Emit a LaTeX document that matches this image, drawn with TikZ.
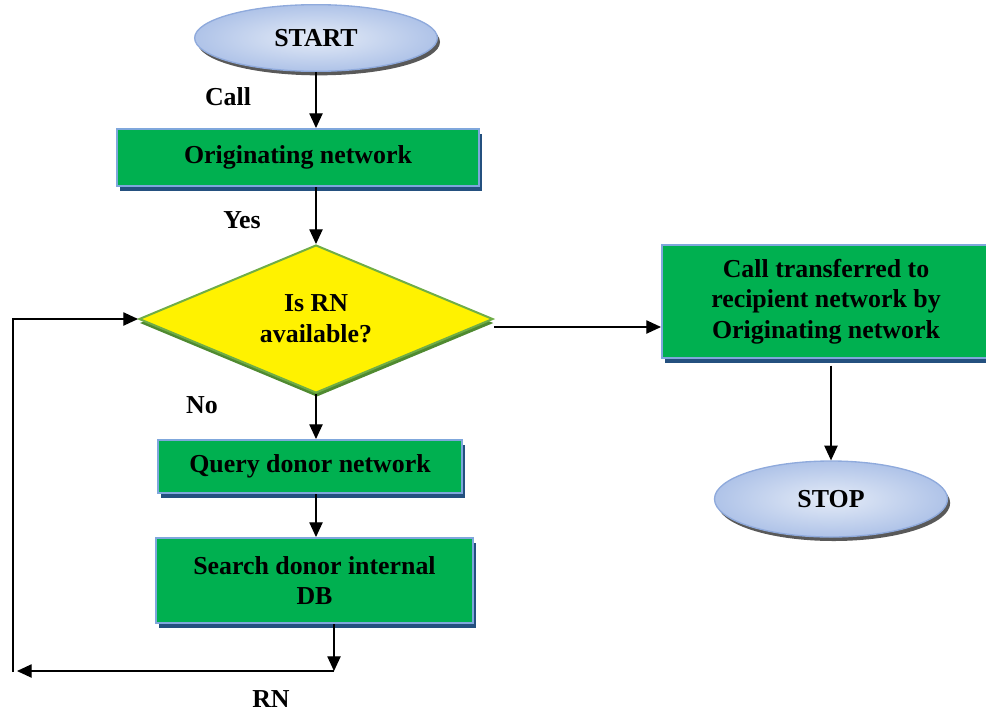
\documentclass[tikz,border=0pt]{standalone}
\usepackage{fontspec}
\setmainfont{Liberation Serif}
\usetikzlibrary{arrows.meta, shapes.geometric, shadows}
\definecolor{boxgreen}{HTML}{00B050}
\definecolor{boxedge}{HTML}{7FA7DC}
\definecolor{boxshadow}{HTML}{24507F}
\definecolor{decedge}{HTML}{70AD47}
\definecolor{decshadow}{HTML}{4F8A30}
\definecolor{termedge}{HTML}{8FAADC}
\definecolor{termin}{HTML}{E4EBF7}
\definecolor{termout}{HTML}{AFC3E8}

\begin{document}
\begin{tikzpicture}[x=0.75pt, y=-0.75pt,
    font=\fontsize{19.4}{23}\selectfont\bfseries,
    >={Triangle[length=11pt, width=10pt]}, line width=0.9pt]
  \tikzset{proc/.style={draw=boxedge, line width=1.5pt, fill=boxgreen, align=center, inner sep=0pt,
      drop shadow={shadow xshift=2.5pt, shadow yshift=-4pt, fill=boxshadow, opacity=1}}}
  \tikzset{dec/.style={diamond, draw=decedge, line width=1.5pt, fill=yellow, aspect=2.4,
      minimum width=265.5pt, minimum height=111pt, inner sep=0pt, align=center,
      drop shadow={shadow xshift=0.5pt, shadow yshift=-3pt, fill=decshadow, opacity=1}}}
  \tikzset{term/.style={ellipse, draw=termedge, line width=1pt, inner color=termin, outer color=termout,
      minimum width=182pt, minimum height=50pt, inner sep=0pt,
      drop shadow={shadow xshift=2pt, shadow yshift=-3pt, fill=gray!70!black, opacity=1}}}
  \useasboundingbox (0,0) rectangle (986,715);
  \node[term] (start) at (316,38) {START};
  \node[proc, minimum width=271.5pt, minimum height=42.75pt] (orig) at (298,157.5) {Originating network};
  \node[dec] (avail) at (316,319) {Is RN\\available?};
  \node[proc, minimum width=246pt, minimum height=84.75pt] (xfer) at (826,301.5)
    {Call transferred to\\recipient network by\\Originating network};
  \node[term, minimum width=174.75pt, minimum height=57pt] (stop) at (831,499) {STOP};
  \node[proc, minimum width=228pt, minimum height=39.75pt] (query) at (310,466.5) {Query donor network};
  \node[proc, minimum width=237.75pt, minimum height=63.75pt] (search) at (314.5,580.5)
    {Search donor internal\\DB};
  \node (call) at (228,97) {Call};
  \node (yes) at (242,220) {Yes};
  \node (no) at (202,405) {No};
  \node (rn) at (271,699) {RN};
  \coordinate (rnA) at (334,671);
  \coordinate (rnB) at (17,671);
  \coordinate (rnC) at (13,672);
  \draw[->] (start.south) -- (start.south |- orig.north);
  \draw[->] (orig.south -| avail) -- (avail.north);
  \draw[->] (avail.south) -- (avail.south |- query.north);
  \draw[->] (query.south -| avail) -- (avail |- search.north);
  \draw[->] (search.south -| rnA) -- (rnA);
  \draw[->] (rnA) -- (rnB);
  \draw[->] (rnC) |- (avail.west);
  \draw[->] ([yshift=-6pt]avail.east) -- ([yshift=-6pt]avail.east -| xfer.west);
  \draw[->] ([yshift=-5pt]xfer.south -| stop) -- (stop.north);
\end{tikzpicture}
\end{document}
